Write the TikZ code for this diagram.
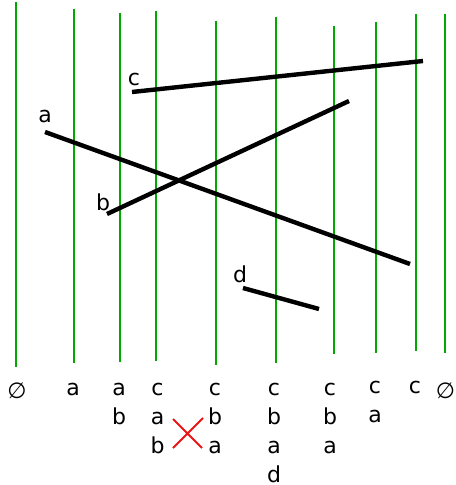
\documentclass[tikz,border=0pt]{standalone}
\usepackage{fontspec}
\setmainfont{DejaVu Sans}
\usetikzlibrary{positioning}
\definecolor{sweepgreen}{RGB}{0,168,0}
\definecolor{swapred}{RGB}{235,20,20}

\begin{document}
\begin{tikzpicture}[x=0.5pt,y=-0.5pt,
  sweep/.style={draw=sweepgreen,line width=1pt},
  seg/.style={draw=black,line width=2.2pt},
  tag/.style={font=\fontsize{11}{13}\selectfont,inner sep=0pt,anchor=base},
  status/.style={font=\fontsize{11}{14.5}\selectfont,inner sep=0pt,anchor=north,align=center}]
  \useasboundingbox (0,0) rectangle (455,485);
  % sweep lines
  \foreach \x/\t/\b [count=\i] in {15.5/2/367,74/9/363,119.5/13/362,156/11/361,216/21/365,
      275.5/17/363,334/26/354,376/22/353,416/14/351,445/14/353}
    \draw[sweep] (\x,\t) coordinate (top\i) -- (\x,\b) coordinate (bot\i);
  % segments
  \coordinate (a1) at (45,132);  \coordinate (a2) at (410,264);
  \coordinate (b1) at (107,214); \coordinate (b2) at (349,101);
  \coordinate (c1) at (132,92);  \coordinate (c2) at (423,61);
  \coordinate (d1) at (243,288); \coordinate (d2) at (319,309);
  \draw[seg] (a1) -- (a2);
  \draw[seg] (b1) -- (b2);
  \draw[seg] (c1) -- (c2);
  \draw[seg] (d1) -- (d2);
  \node[tag] (la) at (45,123) {a};
  \node[tag] (lb) at (103,211) {b};
  \node[tag] (lc) at (134,86) {c};
  \node[tag] (ld) at (240,282) {d};
  % status after each event
  \node[status] (s0) at (17,382) {∅};
  \node[status] (s1) at (73,383) {a};
  \node[status] (s2) at (119,383) {a\\b};
  \node[status] (s3) at (157.5,383) {c\\a\\b};
  \node[status] (s4) at (215,383) {c\\b\\a};
  \node[status] (s5) at (274,383) {c\\b\\a\\d};
  \node[status] (s6) at (330,383) {c\\b\\a};
  \node[status] (s7) at (375,381) {c\\a};
  \node[status] (s8) at (415,381) {c};
  \node[status] (s9) at (445.5,382) {∅};
  % swap
  \coordinate (x1) at (173,419); \coordinate (x2) at (202,448);
  \coordinate (x3) at (173,448); \coordinate (x4) at (203,418);
  \draw[swapred,line width=1pt] (x1) -- (x2) (x3) -- (x4);
\end{tikzpicture}
\end{document}
